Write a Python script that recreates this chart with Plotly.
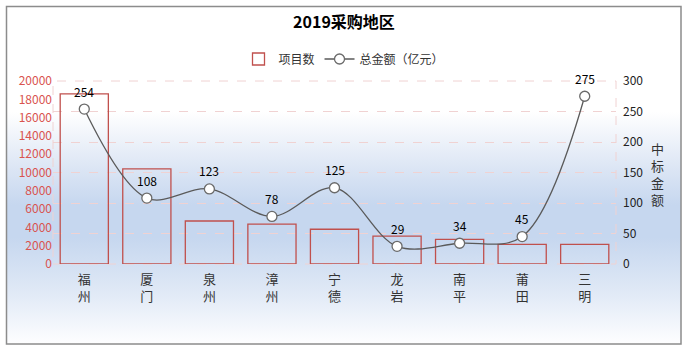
import base64
import plotly.graph_objects as go

# ---- data ----
cities = ["福州", "厦门", "泉州", "漳州", "宁德", "龙岩", "南平", "莆田", "三明"]
project_counts = [18600, 10400, 4700, 4350, 3800, 3050, 2700, 2150, 2150]
total_amount = [254, 108, 123, 78, 125, 29, 34, 45, 275]
left_ticks = list(range(0, 20001, 2000))
right_ticks = list(range(0, 301, 50))
city_labels = ["<br>".join(list(c)) for c in cities]

W, H = 688, 352
PL, PR, PT, PB = 53, 616, 81, 264  # plot area in px


def px_x(px):
    return (px - PL) / (PR - PL)


def px_y(py):
    return (PB - py) / (PB - PT)


# background gradient (pixel y, colour) inside the chart box
BOX_X0, BOX_X1, BOX_Y0, BOX_Y1 = 7, 681, 6.5, 344
stops = [
    (6.5, "#ffffff"),
    (112, "#ffffff"),
    (165, "#dee7f5"),
    (205, "#c6d7ef"),
    (238, "#c6d7ef"),
    (292, "#e0e9f6"),
    (344, "#fefeff"),
]
stop_xml = "".join(
    '<stop offset="%.4f" stop-color="%s"/>' % ((y - BOX_Y0) / (BOX_Y1 - BOX_Y0), c)
    for y, c in stops)
svg = ('<svg xmlns="http://www.w3.org/2000/svg" width="674" height="338" '
       'viewBox="0 0 674 338" preserveAspectRatio="none"><defs>'
       '<linearGradient id="g" x1="0" y1="0" x2="0" y2="1">' + stop_xml +
       '</linearGradient></defs><rect x="0" y="0" width="674" height="338" fill="url(#g)"/></svg>')
bg_src = "data:image/svg+xml;base64," + base64.b64encode(svg.encode()).decode()

shapes = [
    # dashed plot border
    dict(type="rect", xref="paper", yref="paper", x0=0, x1=1, y0=0, y1=1,
         line=dict(color="#f0d2d2", width=1, dash="dash"), layer="below"),
    # outer chart border
    dict(type="rect", xref="paper", yref="paper",
         x0=px_x(BOX_X0 - 0.5), x1=px_x(BOX_X1), y0=px_y(BOX_Y1), y1=px_y(BOX_Y0),
         line=dict(color="#8c8c8c", width=1.5), fillcolor="rgba(0,0,0,0)",
         layer="above"),
]

FONT = "Noto Sans CJK SC"

fig = go.Figure()
fig.add_trace(go.Bar(
    x=cities, y=project_counts, name="项目数", width=0.77,
    marker=dict(color="rgba(0,0,0,0)", line=dict(color="#c0504d", width=1.3)),
))
fig.add_trace(go.Scatter(
    x=cities, y=total_amount, name="总金额（亿元）", yaxis="y2",
    mode="lines+markers",
    line=dict(color="#5a5a5a", width=1.3, shape="spline", smoothing=1.0),
    marker=dict(symbol="circle", size=10, color="white",
                line=dict(color="#6a6a6a", width=1.3)),
))

annotations = []
for c, v in zip(cities, total_amount):
    annotations.append(dict(x=c, y=v, xref="x", yref="y2", text=str(v),
                            showarrow=False, yshift=18,
                            font=dict(family=FONT, size=12, color="#000")))
annotations.append(dict(x=px_x(657), y=px_y(174), xref="paper", yref="paper",
                        xanchor="center", xshift=0,
                        text="中<br>标<br>金<br>额", showarrow=False,
                        font=dict(family=FONT, size=13, color="#333")))

fig.update_layout(
    width=W, height=H,
    margin=dict(l=PL, r=W - PR, t=PT, b=H - PB, autoexpand=False),
    paper_bgcolor="white", plot_bgcolor="rgba(0,0,0,0)",
    font=dict(family=FONT, size=12, color="#333"),
    title=dict(text="<b>2019采购地区</b>", x=0.5, xref="container", xanchor="center",
               y=1 - 22 / H, yref="container", yanchor="middle",
               font=dict(family=FONT, size=16, color="#000")),
    legend=dict(orientation="h", x=0.5, xref="container", xanchor="center",
                y=1 - 59 / H, yref="container", yanchor="middle",
                font=dict(family=FONT, size=12, color="#333"),
                bgcolor="rgba(0,0,0,0)", itemwidth=30),
    xaxis=dict(range=[-0.5, 8.5], tickvals=cities, ticktext=city_labels,
               showgrid=False, zeroline=False, showline=False, ticks="",
               automargin=False, ticklabelstandoff=6,
               tickfont=dict(family=FONT, size=13, color="#333")),
    yaxis=dict(range=[0, 20000], tickvals=left_ticks,
               ticktext=[str(v) for v in left_ticks],
               showgrid=False, zeroline=False, automargin=False,
               showline=False, ticks="",
               tickfont=dict(family=FONT, size=12, color="#d9534f")),
    yaxis2=dict(range=[0, 300], tickvals=right_ticks,
                ticktext=[str(v) for v in right_ticks],
                overlaying="y", side="right", automargin=False,
                ticklabelstandoff=6,
                showgrid=True, gridcolor="#f0d2d2", griddash="dash", gridwidth=1,
                zeroline=False, showline=False, ticks="",
                tickfont=dict(family=FONT, size=12, color="#222")),
    images=[dict(source=bg_src, xref="paper", yref="paper",
                 x=px_x(BOX_X0), y=px_y(BOX_Y0),
                 sizex=(BOX_X1 - BOX_X0) / (PR - PL),
                 sizey=(BOX_Y1 - BOX_Y0) / (PB - PT),
                 xanchor="left", yanchor="top", sizing="stretch", layer="below")],
    shapes=shapes,
    annotations=annotations,
    showlegend=True,
    bargap=0.23,
)

fig.write_html("out.html")
